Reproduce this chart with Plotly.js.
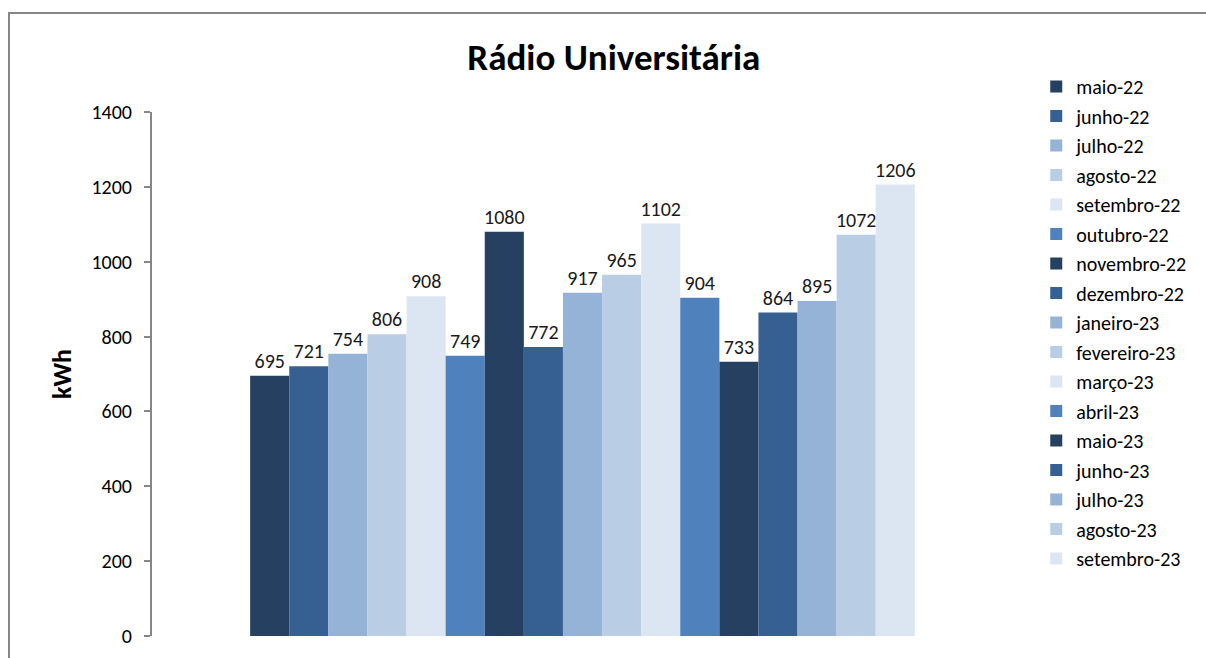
<!DOCTYPE html>
<html>
<head>
<meta charset="utf-8">
<script src="https://cdn.plot.ly/plotly-3.0.1.min.js"></script>
<style>html,body{margin:0;padding:0;background:#fff;}#chart{width:1206px;height:658px;}</style>
</head>
<body>
<div id="chart"></div>
<script>
const months = ["maio-22","junho-22","julho-22","agosto-22","setembro-22","outubro-22","novembro-22","dezembro-22","janeiro-23","fevereiro-23","março-23","abril-23","maio-23","junho-23","julho-23","agosto-23","setembro-23"];
const values = [695,721,754,806,908,749,1080,772,917,965,1102,904,733,864,895,1072,1206];
const palette = ["#254061","#366092","#95B3D7","#B9CDE5","#DCE6F2","#4F81BD"];
const category = ["Rádio Universitária"];
const yTicks = [0,200,400,600,800,1000,1200,1400];

const FONT = "Carlito, Lato, 'Liberation Sans', sans-serif";

const traces = months.map((m, i) => ({
  type: "bar",
  name: m,
  x: category,
  y: [values[i]],
  text: [String(values[i])],
  textposition: "outside",
  textfont: {family: FONT, size: 20, color: "#1a1a1a"},
  constraintext: "none",
  cliponaxis: false,
  marker: {color: palette[i % palette.length], line: {width: 0}},
  legendgroup: "g" + i,
  hoverinfo: "skip"
}));

const layout = {
  width: 1206,
  height: 658,
  margin: {l: 152, r: 193, t: 112, b: 22},
  paper_bgcolor: "#ffffff",
  plot_bgcolor: "#ffffff",
  font: {family: FONT, size: 20, color: "#000"},
  barmode: "group",
  bargap: 0.228,
  bargroupgap: 0,
  showlegend: true,
  title: {
    text: "<b>Rádio Universitária</b>",
    font: {family: FONT, size: 37, color: "#000"},
    x: 0.509, xref: "container", xanchor: "center",
    y: 1 - 57/658, yref: "container", yanchor: "middle"
  },
  xaxis: {
    type: "category",
    showticklabels: false,
    showline: false,
    ticks: "",
    showgrid: false,
    zeroline: false,
    range: [-0.5, 0.5]
  },
  yaxis: {
    range: [0, 1400],
    tickvals: yTicks,
    ticktext: yTicks.map(String),
    showgrid: false,
    zeroline: false,
    showline: true,
    linecolor: "#868686",
    linewidth: 2,
    ticks: "outside",
    ticklen: 6,
    tickwidth: 2,
    tickcolor: "#868686",
    ticklabelstandoff: 8,
    tickfont: {family: FONT, size: 20, color: "#000"},
    title: {text: "<b>kWh</b>", font: {family: FONT, size: 26, color: "#000"}, standoff: 12}
  },
  legend: {
    x: 1.027, xanchor: "left",
    y: 1 + 45/524, yanchor: "top",
    maxheight: 620,
    font: {family: FONT, size: 20, color: "#000"},
    tracegroupgap: 0.5,
    itemwidth: 30,
    bgcolor: "rgba(0,0,0,0)"
  },
  shapes: [{
    type: "rect", xref: "paper", yref: "paper",
    x0: (9 - 152) / 861, x1: 1.4,
    y0: -0.2, y1: (636 - 13) / 524,
    line: {color: "#868686", width: 2},
    fillcolor: "rgba(0,0,0,0)",
    layer: "below"
  }]
};

Plotly.newPlot("chart", traces, layout, {displayModeBar: false, staticPlot: true});
</script>
</body>
</html>
